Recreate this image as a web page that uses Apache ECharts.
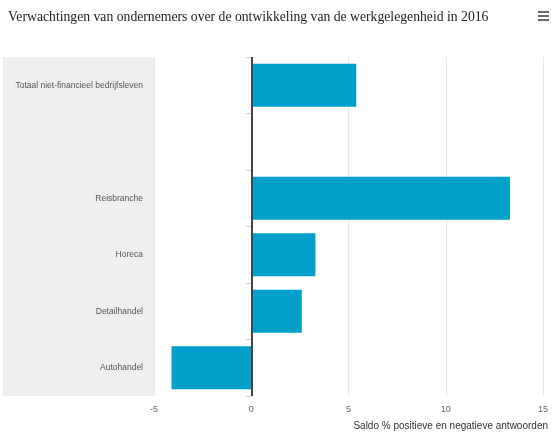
<!DOCTYPE html>
<html>
<head>
<meta charset="utf-8">
<script src="https://cdn.jsdelivr.net/npm/echarts@6/dist/echarts.min.js"></script>
<style>html,body{margin:0;padding:0;background:#fff}#c{width:556px;height:434px}</style>
</head>
<body>
<div id="c"></div>
<script>
var titleText = 'Verwachtingen van ondernemers over de ontwikkeling van de werkgelegenheid in 2016';
var axisName = 'Saldo % positieve en negatieve antwoorden';
var categories = ['Totaal niet-financieel bedrijfsleven', '', 'Reisbranche', 'Horeca', 'Detailhandel', 'Autohandel'];
var values = [5.4, null, 13.3, 3.3, 2.6, -4.1];
var xTicks = [-5, 0, 5, 10, 15];

var chart = echarts.init(document.getElementById('c'), null, {renderer: 'canvas'});
chart.setOption({
  animation: false,
  backgroundColor: '#fff',
  title: [
    {text: titleText, left: 3, top: 5, textStyle: {fontFamily: 'Liberation Serif', fontSize: 13.7, fontWeight: 'normal', color: '#222'}},
    {text: axisName, right: 3, top: 416, textStyle: {fontFamily: 'Liberation Sans', fontSize: 10, fontWeight: 'normal', color: '#333'}}
  ],
  graphic: [
    {type: 'rect', shape: {x: 3, y: 57, width: 151, height: 339}, style: {fill: '#efefef'}, z: -10, silent: true},
    {type: 'rect', shape: {x: 538, y: 11, width: 11, height: 2}, style: {fill: '#666'}},
    {type: 'rect', shape: {x: 538, y: 15, width: 11, height: 2}, style: {fill: '#666'}},
    {type: 'rect', shape: {x: 538, y: 19, width: 11, height: 2}, style: {fill: '#666'}}
  ],
  grid: {left: 154, right: 13, top: 57, bottom: 38, containLabel: false},
  xAxis: {
    type: 'value', min: xTicks[0], max: xTicks[xTicks.length - 1], interval: 5,
    axisLine: {show: false}, axisTick: {show: false},
    splitLine: {show: true, lineStyle: {color: '#e8e8e8', width: 1}},
    axisLabel: {color: '#666', fontSize: 9, fontFamily: 'Liberation Sans', margin: 9}
  },
  yAxis: {
    type: 'category', inverse: true, data: categories,
    axisLine: {show: true, lineStyle: {color: '#e4e4e4'}},
    axisTick: {show: true, length: 5, lineStyle: {color: '#d0d0d0'}},
    axisLabel: {color: '#555', fontSize: 8.5, fontFamily: 'Liberation Sans', margin: 11}
  },
  series: [{
    type: 'bar', data: values, barCategoryGap: '24%',
    itemStyle: {color: '#00a0cb'},
    markLine: {
      silent: true, symbol: 'none', label: {show: false},
      lineStyle: {color: '#444', width: 2, type: 'solid'},
      data: [{xAxis: 0}]
    }
  }]
});
</script>
</body>
</html>
